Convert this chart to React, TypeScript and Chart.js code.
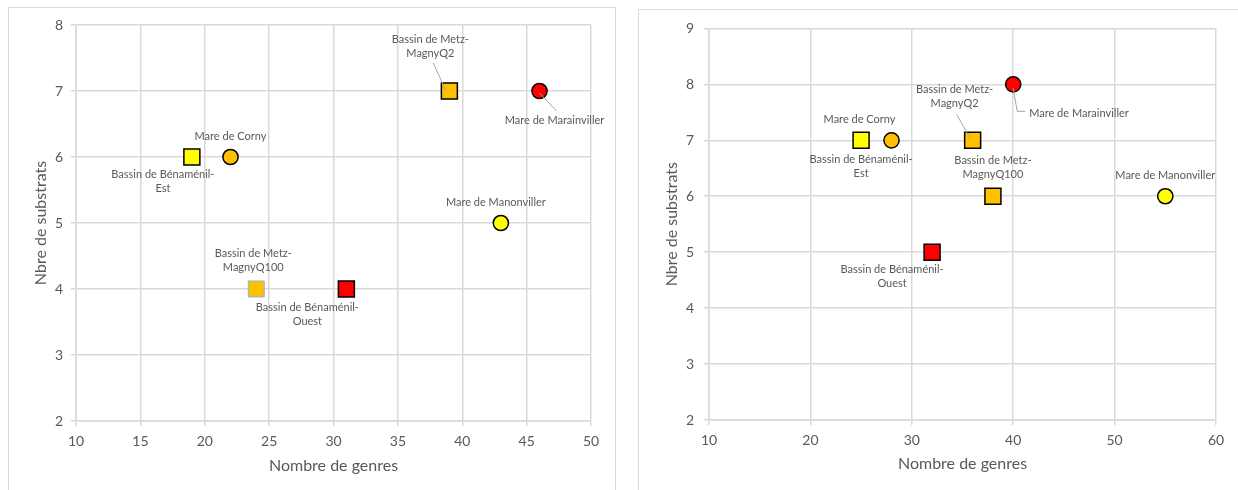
import React, { useEffect, useRef } from "react";
import { Chart, registerables } from "chart.js";

Chart.register(...registerables);

// ---------- data ----------
const siteNames = [
  "Bassin de Bénaménil-Est",
  "Mare de Corny",
  "Bassin de Metz-MagnyQ100",
  "Bassin de Bénaménil-Ouest",
  "Bassin de Metz-MagnyQ2",
  "Mare de Marainviller",
  "Mare de Manonviller",
];

const leftGenres = [19, 22, 24, 31, 39, 46, 43];
const leftSubstrats = [6, 6, 4, 4, 7, 7, 5];

const rightGenres = [25, 28, 38, 32, 36, 40, 55];
const rightSubstrats = [7, 7, 6, 5, 7, 8, 6];

const leftXTicks = [10, 15, 20, 25, 30, 35, 40, 45, 50];
const leftYTicks = [2, 3, 4, 5, 6, 7, 8];
const rightXTicks = [10, 20, 30, 40, 50, 60];
const rightYTicks = [2, 3, 4, 5, 6, 7, 8, 9];

const xTitle = "Nombre de genres";
const yTitle = "Nbre de substrats";

// ---------- styles ----------
const YELLOW = "#FFFF00";
const ORANGE = "#FFC000";
const RED = "#FF0000";
const markerShapes = ["rect", "circle", "rect", "rect", "rect", "circle", "circle"];
const markerFills = [YELLOW, ORANGE, ORANGE, RED, ORANGE, RED, YELLOW];
const leftBorders = ["#000", "#000", "#8EB4E3", "#000", "#000", "#000", "#000"];
const rightBorders = ["#000", "#000", "#000", "#000", "#000", "#000", "#000"];

const FONT = "Lato, 'Noto Sans', sans-serif";
const TEXT = "#595959";
const GRID = "#D9D9D9";

type LabelPos = { dx: number; dy: number; align?: "center" | "left"; leader?: number[][] };

// label placement (pixel offsets from each marker)
const leftLabelPos: LabelPos[] = [
  { dx: -29, dy: 17 },
  { dx: 0, dy: -21 },
  { dx: -3, dy: -36 },
  { dx: -39, dy: 18 },
  { dx: -19, dy: -52, leader: [[-16, -28], [-4, -1]] },
  { dx: 15, dy: 29, leader: [[0, 2], [17, 20]] },
  { dx: -5, dy: -21 },
];
const rightLabelPos: LabelPos[] = [
  { dx: 0, dy: 19 },
  { dx: -32, dy: -21 },
  { dx: 0, dy: -36 },
  { dx: -40, dy: 17 },
  { dx: -18, dy: -51, leader: [[-16, -26], [-2, -1]] },
  { dx: 16, dy: 29, align: "left", leader: [[0, 4], [4, 27], [12, 27]] },
  { dx: 0, dy: -21 },
];

function splitName(n: string): string[] {
  const i = n.indexOf("-");
  if (i < 0) return [n];
  return [n.slice(0, i + 1), n.slice(i + 1)];
}

const labelPlugin = {
  id: "siteLabels",
  afterDatasetsDraw(chart: any) {
    const opts = chart.options.plugins.siteLabels;
    if (!opts) return;
    const pos: LabelPos[] = opts.pos;
    const meta = chart.getDatasetMeta(0);
    const ctx = chart.ctx;
    ctx.save();
    meta.data.forEach((el: any, i: number) => {
      const p = pos[i];
      const x = el.x;
      const y = el.y;
      if (p.leader) {
        ctx.strokeStyle = "#A6A6A6";
        ctx.lineWidth = 1;
        ctx.beginPath();
        p.leader.forEach((pt, k) => {
          if (k === 0) ctx.moveTo(x + pt[0], y + pt[1]);
          else ctx.lineTo(x + pt[0], y + pt[1]);
        });
        ctx.stroke();
      }
      ctx.fillStyle = TEXT;
      ctx.font = `11px ${FONT}`;
      ctx.textAlign = p.align === "left" ? "left" : "center";
      ctx.textBaseline = "middle";
      splitName(siteNames[i]).forEach((line, k) => {
        ctx.fillText(line, x + p.dx, y + p.dy + k * 14);
      });
    });
    ctx.restore();
  },
};

type PanelProps = {
  xs: number[];
  ys: number[];
  xTicks: number[];
  yTicks: number[];
  borders: string[];
  labelPos: LabelPos[];
  box: { left: number; top: number; width: number; height: number };
  geom: { padTop: number; padRight: number; yWidth: number; xHeight: number; xTitlePad: number; yTitlePad: number; yTickPad: number };
};

function ScatterPanel(props: PanelProps) {
  const ref = useRef<HTMLCanvasElement>(null);
  useEffect(() => {
    const { xs, ys, xTicks, yTicks, borders, labelPos, geom } = props;
    const chart = new Chart(ref.current!, {
      type: "scatter",
      data: {
        datasets: [
          {
            data: xs.map((x, i) => ({ x, y: ys[i] })),
            pointStyle: markerShapes as any,
            pointRadius: markerShapes.map((s) => (s === "rect" ? 11.3 : 7.6)),
            pointBackgroundColor: markerFills,
            pointBorderColor: borders,
            pointBorderWidth: borders.map((b) => (b === "#000" ? 1.5 : 1)),
          },
        ],
      },
      options: {
        responsive: false,
        animation: false,
        layout: { padding: { top: geom.padTop, right: geom.padRight, left: 0, bottom: 0 } },
        plugins: {
          legend: { display: false },
          tooltip: { enabled: false },
          siteLabels: { pos: labelPos },
        } as any,
        scales: {
          x: {
            type: "linear",
            min: xTicks[0],
            max: xTicks[xTicks.length - 1],
            afterBuildTicks: (s: any) => {
              s.ticks = xTicks.map((v) => ({ value: v }));
            },
            afterFit: (s: any) => {
              s.height = geom.xHeight;
            },
            grid: { color: GRID, lineWidth: 1.5, tickLength: 5, tickColor: GRID },
            border: { color: GRID, width: 1.5 },
            ticks: { color: TEXT, font: { family: FONT, size: 14 }, padding: 7, maxRotation: 0 },
            title: {
              display: true,
              text: xTitle,
              color: TEXT,
              font: { family: FONT, size: 16 },
              padding: { top: 0, bottom: geom.xTitlePad },
            },
          },
          y: {
            type: "linear",
            min: yTicks[0],
            max: yTicks[yTicks.length - 1],
            afterBuildTicks: (s: any) => {
              s.ticks = yTicks.map((v) => ({ value: v }));
            },
            afterFit: (s: any) => {
              s.width = geom.yWidth;
            },
            grid: { color: GRID, lineWidth: 1.5, tickLength: 5, tickColor: GRID },
            border: { color: GRID, width: 1.5 },
            ticks: { color: TEXT, font: { family: FONT, size: 14 }, padding: geom.yTickPad },
            title: {
              display: true,
              text: yTitle,
              color: TEXT,
              font: { family: FONT, size: 16 },
              padding: { top: geom.yTitlePad, bottom: 0 },
            },
          },
        },
      },
      plugins: [labelPlugin],
    });
    return () => chart.destroy();
  }, []);
  const { box } = props;
  return (
    <div
      style={{
        position: "absolute",
        left: box.left,
        top: box.top,
        width: box.width,
        height: box.height + 20,
        border: "1px solid #D9D9D9",
        boxSizing: "border-box",
        background: "#fff",
      }}
    >
      <canvas ref={ref} width={box.width - 2} height={box.height} style={{ display: "block", width: box.width - 2, height: box.height }} />
    </div>
  );
}

export default function App() {
  return (
    <div style={{ position: "fixed", left: 0, top: 0, width: 1238, height: 490, overflow: "hidden", background: "#fff" }}>
      <ScatterPanel
        xs={leftGenres}
        ys={leftSubstrats}
        xTicks={leftXTicks}
        yTicks={leftYTicks}
        borders={leftBorders}
        labelPos={leftLabelPos}
        box={{ left: 8, top: 7, width: 608, height: 482 }}
        geom={{ padTop: 17, padRight: 24, yWidth: 67, xHeight: 69, xTitlePad: 15, yTitlePad: 22, yTickPad: 8 }}
      />
      <ScatterPanel
        xs={rightGenres}
        ys={rightSubstrats}
        xTicks={rightXTicks}
        yTicks={rightYTicks}
        borders={rightBorders}
        labelPos={rightLabelPos}
        box={{ left: 638, top: 9, width: 612, height: 480 }}
        geom={{ padTop: 17, padRight: 33, yWidth: 70, xHeight: 70, xTitlePad: 17, yTitlePad: 23, yTickPad: 10 }}
      />
    </div>
  );
}
